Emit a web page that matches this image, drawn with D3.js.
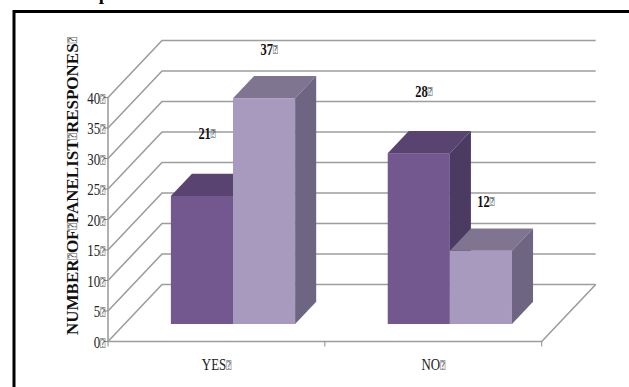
<!DOCTYPE html>
<html><head><meta charset="utf-8">
<script src="https://cdn.jsdelivr.net/npm/d3@7"></script>
<style>html,body{margin:0;padding:0;background:#fff;overflow:hidden}</style>
</head><body>
<svg id="c" width="629" height="387"></svg>
<script>
const BOX = "\u2370";
const categories = ["YES" + BOX, "NO" + BOX];
const seriesDark = [21, 28];
const seriesLight = [37, 12];
const yTickValues = [0, 5, 10, 15, 20, 25, 30, 35, 40];
const yTickLabels = yTickValues.map(v => v + BOX);
const yTitle = "NUMBER" + BOX + "OF" + BOX + "PANELIST" + BOX + "RESPONES" + BOX;

const svg = d3.select("#c");
const serif = "'Liberation Serif','Times New Roman',serif";

// write text, rendering the box glyph smaller and thinner
function fillText(sel, str) {
  str.split(/(\u2370)/).filter(s => s.length).forEach(part => {
    const t = sel.append("tspan").text(part);
    if (part === BOX) t.attr("font-size", "0.62em").attr("font-weight", "normal")
      .attr("font-family", "'DejaVu Sans Mono','DejaVu Sans',sans-serif").attr("fill", "#555");
  });
  return sel;
}

// frame
svg.append("rect").attr("x", 14).attr("y", 11.5).attr("width", 800).attr("height", 600)
  .attr("fill", "none").attr("stroke", "#000").attr("stroke-width", 3);
// cut-off title descender (as in the reference)
svg.append("text").attr("x", 104).attr("y", 0).attr("text-anchor", "middle")
  .attr("font-family", serif).attr("font-weight", "bold").attr("font-size", 19).text("p");

const y = d3.scaleLinear().domain([0, 40]).range([341.5, 97.5]);
const xCat = d3.scaleBand().domain(categories).range([108, 541.7]).padding(0);
const step = xCat.bandwidth();
const groupW = step * 0.573;
const xSer = d3.scaleBand().domain([0, 1]).range([(step - groupW) / 2, (step + groupW) / 2]);
const D = {dx: 54, dy: -57};
const fFront = 0.307, fDepth = 0.39;

const grid = svg.append("g").attr("fill", "none").attr("stroke", "#9d9d9d").attr("stroke-width", 1.6);
const xL = xCat.range()[0], xR = xCat.range()[1];
yTickValues.forEach(v => {
  const yy = y(v);
  grid.append("path").attr("d", d3.line()([[xL, yy], [xL + D.dx, yy + D.dy], [xR + D.dx, yy + D.dy]]));
});
grid.append("path").attr("d", d3.line()([[xL, y(0)], [xR, y(0)], [xR + D.dx, y(0) + D.dy]]));
grid.append("line").attr("x1", xL).attr("x2", xL).attr("y1", y(0)).attr("y2", y(40));
const tk = svg.append("g").attr("stroke", "#8a8a8a").attr("stroke-width", 1);
yTickValues.forEach(v => tk.append("line").attr("x1", xL - 4).attr("x2", xL).attr("y1", y(v)).attr("y2", y(v)));
[xL, xL + step, xR].forEach(xx => tk.append("line").attr("x1", xx).attr("x2", xx).attr("y1", y(0)).attr("y2", y(0) + 5));

// y tick labels
yTickValues.forEach((v, i) => {
  const t = svg.append("g").attr("transform", `translate(105,${y(v) + 0.5}) scale(0.76,1)`)
    .append("text").attr("text-anchor", "end").attr("dominant-baseline", "central")
    .attr("font-family", serif).attr("font-size", 17).attr("fill", "#222");
  fillText(t, yTickLabels[i]);
});
// y title
const tt = svg.append("text").attr("transform", "translate(71.5,186) rotate(-90)")
  .attr("text-anchor", "middle").attr("dominant-baseline", "central")
  .attr("font-family", serif).attr("font-weight", "bold").attr("font-size", 16.5).attr("fill", "#111")
  .attr("textLength", 298).attr("lengthAdjust", "spacingAndGlyphs");
fillText(tt, yTitle);
// category labels
categories.forEach(c => {
  const t = svg.append("g").attr("transform", `translate(${xCat(c) + step / 2},364) scale(0.76,1)`)
    .append("text").attr("text-anchor", "middle").attr("dominant-baseline", "central")
    .attr("font-family", serif).attr("font-size", 17).attr("fill", "#222");
  fillText(t, c);
});

// bars
const colors = [
  {front: "#735890", top: "#594471", side: "#4b3a61"},
  {front: "#a899bf", top: "#807591", side: "#6d6581"}
];
const ox = D.dx * fFront, oy = D.dy * fFront;
const ddx = D.dx * fDepth, ddy = D.dy * fDepth;
const bars = svg.append("g");
const labelOffsets = [62, 49];
categories.forEach((c, ci) => {
  [seriesDark, seriesLight].forEach((ser, si) => {
    const v = ser[ci];
    const xl = xCat(c) + xSer(si) + ox, xr = xl + xSer.bandwidth();
    const yt = y(v) + oy, yb = y(0) + oy;
    const col = colors[si];
    bars.append("rect").attr("x", xl).attr("y", yt).attr("width", xr - xl).attr("height", yb - yt).attr("fill", col.front);
    bars.append("path").attr("fill", col.top)
      .attr("d", d3.line()([[xl, yt], [xr, yt], [xr + ddx, yt + ddy], [xl + ddx, yt + ddy]]) + "Z");
    bars.append("path").attr("fill", col.side)
      .attr("d", d3.line()([[xr, yt], [xr + ddx, yt + ddy], [xr + ddx, yb + ddy], [xr, yb]]) + "Z");
  });
});
// data labels
categories.forEach((c, ci) => {
  [seriesDark, seriesLight].forEach((ser, si) => {
    const v = ser[ci];
    const cx = xCat(c) + xSer(si) + ox + xSer.bandwidth() / 2 + 5;
    const t = svg.append("g").attr("transform", `translate(${cx},${y(v) + oy - labelOffsets[si]}) scale(0.78,1)`)
      .append("text").attr("text-anchor", "middle").attr("dominant-baseline", "central")
      .attr("font-family", serif).attr("font-weight", "bold").attr("font-size", 16).attr("fill", "#111");
    fillText(t, v + BOX);
  });
});
</script>
</body></html>
